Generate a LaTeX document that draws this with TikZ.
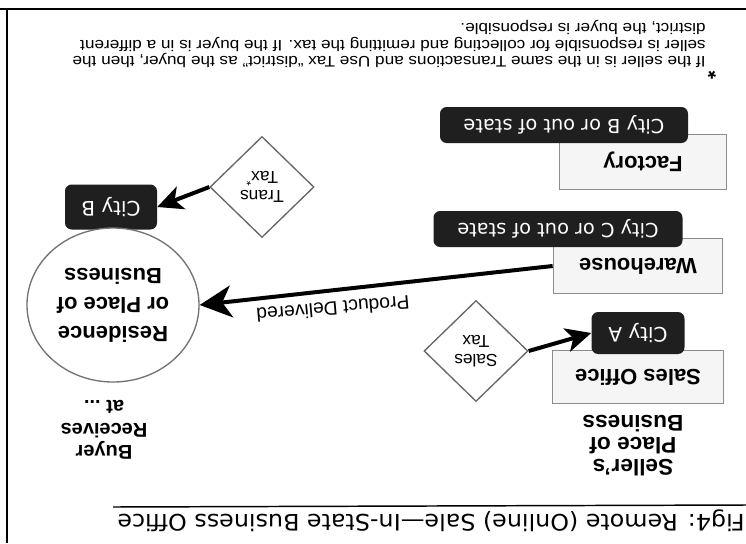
\documentclass[tikz,border=0pt]{standalone}
\usepackage{fontspec}
\setmainfont{Liberation Sans}
\newfontfamily\dv{DejaVu Sans}
\usetikzlibrary{shapes.geometric,arrows.meta}
\newdimen\pxu \pxu=0.75pt
\begin{document}
\begin{tikzpicture}[x=0.75pt,y=-0.75pt,
  R/.style={rotate=180},
  wbox/.style n args={2}{R,draw=black!45,line width=1.3pt,fill=black!4,
    minimum width=#1\pxu,minimum height=#2\pxu,inner sep=0pt,
    font=\fontsize{16.5}{18}\selectfont\bfseries},
  bbox/.style n args={2}{R,fill=black!88,rounded corners=5pt,text=white,
    minimum width=#1\pxu,minimum height=#2\pxu,inner sep=0pt,
    font=\dv\fontsize{14.5}{16}\selectfont},
  dia/.style={R,diamond,draw=black!60,line width=1pt,fill=white,inner sep=0pt,
    minimum width=104\pxu,minimum height=101\pxu,align=center,
    font=\fontsize{13}{14}\selectfont},
  arr/.style={line width=3pt,-{Stealth[length=24pt,width=24pt,inset=7pt]}},
  arrs/.style={line width=3pt,-{Stealth[length=19pt,width=18pt,inset=5pt]}}
]
\fill[white] (0,0) rectangle (746,543);
\useasboundingbox (0,0) rectangle (746,543);
% frame
\draw[line width=2.2pt] (0,9) -- (746,9);
\draw[line width=1.5pt] (7,9) -- (7,543);
\draw[line width=1.1pt] (113,507) -- (746,505);
% title
\node[R,xscale=1.05,anchor=west,inner sep=0pt,font=\dv\fontsize{17}{18}\selectfont] (title) at (745,521) {Fig4: Remote (Online) Sale—In-State Business Office};
% footnote
\node[R,xscale=1.12,anchor=north west,align=left,inner sep=0pt,font=\fontsize{11.5}{12.4}\selectfont] (fn) at (706,68)
  {If the seller is in the same Transactions and Use Tax “district” as the buyer, then the\\
   seller is responsible for collecting and remitting the tax. If the buyer is in a different\\
   district, the buyer is responsible.};
\node[R,inner sep=0pt,font=\bfseries\fontsize{16}{16}\selectfont] (star) at (712,72) {*};
% white boxes
\node[wbox={167}{55}] (fac) at (643,162) {Factory};
\node[wbox={169}{55}] (wh) at (638,266) {Warehouse};
\node[wbox={171}{53}] (so) at (638,377) {Sales Office};
% black labels
\node[bbox={248}{36}] (cbo) at (564,125) {City B or out of state};
\node[bbox={249}{36}] (cco) at (558,229) {City C or out of state};
\node[bbox={93}{42},font=\dv\fontsize{15}{16}\selectfont] (ca) at (638,333) {City A};
\node[bbox={92}{45},font=\dv\fontsize{15}{16}\selectfont] (cb) at (111,207) {City B};
% buyer circle
\node[R,ellipse,draw=black!55,line width=1pt,fill=white,minimum width=172\pxu,minimum height=154\pxu,
  inner sep=0pt,align=center,font=\bfseries\fontsize{16.5}{21.75}\selectfont] (res) at (113,305)
  {Residence\\or Place of\\Business};
% diamonds
\node[dia] (st) at (476,351) {Sales\\Tax};
\node[dia] (tt) at (262,187) {Trans\\Tax\textsuperscript{*}};
% side texts
\node[R,align=center,inner sep=0pt,font=\bfseries\fontsize{17}{16.5}\selectfont] (sel) at (633,446) {Seller's\\Place of\\Business};
\node[R,align=center,inner sep=0pt,font=\bfseries\fontsize{15}{17}\selectfont] (buy) at (104,430) {Buyer\\Receives\\at ...};
% arrows (nodes are turned by 180 degrees, so east is on the left of the page)
\draw[arr] (wh.east) -- (res.west);
\node[rotate=185,inner sep=0pt,font=\fontsize{14.5}{16}\selectfont] (pd) at (333,309) {Product Delivered};
\draw[arrs] (st.west) -- (ca.east);
\draw[arrs] (tt.east) -- (cb.west);
\end{tikzpicture}
\end{document}
